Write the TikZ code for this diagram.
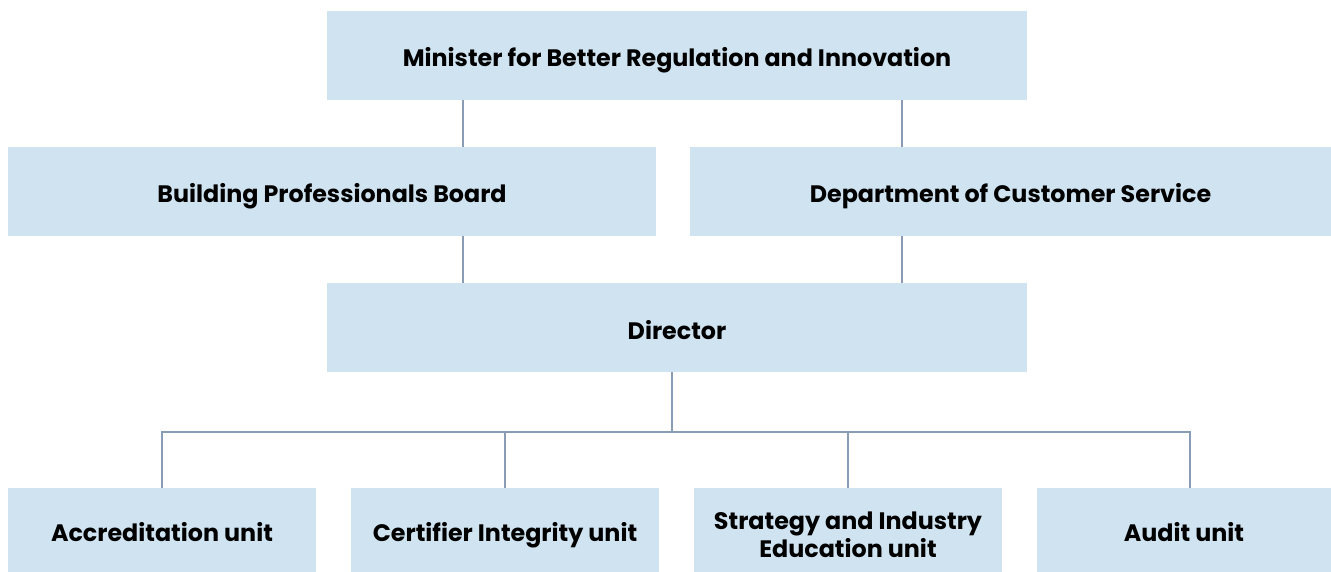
\documentclass[tikz,border=0pt]{standalone}
\usepackage{fontspec}
\setmainfont{Poppins}
\definecolor{boxfill}{HTML}{CFE3F0}
\definecolor{linkcol}{HTML}{8A9BB5}
\begin{document}
\begin{tikzpicture}[x=1pt,y=-1pt,
  orgbox/.style={fill=boxfill,draw=none,inner sep=0pt,align=center,
    font=\fontsize{23.8}{27.5}\selectfont\bfseries,text height=23pt,text depth=0pt},
  twoline/.style={text height=,text depth=},
  link/.style={draw=linkcol,line width=2.2pt}]
\useasboundingbox (0,0) rectangle (1331,572);
% boxes placed by their corners
\newcommand{\orgnode}[7][]{%
  \node[orgbox,#1,minimum width=#5-#3,minimum height=#6-#4] (#2) at ({(#3+#5)/2},{(#4+#6)/2}) {#7};}
\orgnode{min}{327}{11}{1027}{100}{Minister for Better Regulation and Innovation}
\orgnode{bpb}{8}{147}{656}{236}{Building Professionals Board}
\orgnode{dcs}{690}{147}{1331}{236}{Department of Customer Service}
\orgnode{dir}{327}{283}{1027}{372}{Director}
\orgnode{acc}{8}{488}{316}{572}{Accreditation unit}
\orgnode{cert}{351}{488}{659}{572}{Certifier Integrity unit}
\orgnode[twoline]{strat}{694}{488}{1002}{572}{\rule{0pt}{27pt}Strategy and Industry\\Education unit}
\orgnode{aud}{1037}{488}{1331}{572}{Audit unit}
% connectors
\draw[link] (min.south -| 463,0) -- (bpb.north -| 463,0);
\draw[link] (min.south -| 902,0) -- (dcs.north -| 902,0);
\draw[link] (bpb.south -| 463,0) -- (dir.north -| 463,0);
\draw[link] (dcs.south -| 902,0) -- (dir.north -| 902,0);
\coordinate (bus) at (672,432);
\draw[link] (dir.south -| bus) -- (bus);
\draw[link] (acc.north -| 162,0) |- (bus);
\draw[link] (aud.north -| 1190,0) |- (bus);
\draw[link] (cert.north -| 505,0) -- (cert.north |- bus);
\draw[link] (strat.north -| 848,0) -- (strat.north |- bus);
\end{tikzpicture}
\end{document}
